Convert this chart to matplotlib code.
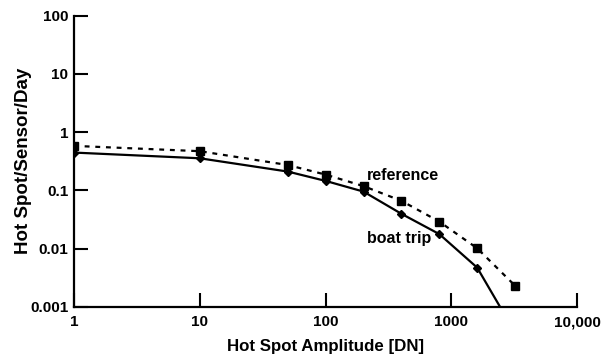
import matplotlib.pyplot as plt
from matplotlib.ticker import FixedLocator, FixedFormatter, NullLocator

plt.rcParams['font.family'] = ['Liberation Sans', 'DejaVu Sans']
plt.rcParams['font.weight'] = 'bold'

# data
amplitude = [1, 10, 50, 100, 200, 400, 800, 1600, 3200]
reference = [0.58, 0.47, 0.272, 0.186, 0.118, 0.066, 0.029, 0.0101, 0.0023]
boat_trip = [0.445, 0.355, 0.21, 0.145, 0.095, 0.0395, 0.0177, 0.0047, 0.00036]

x_ticks = [1, 10, 100, 1000, 10000]
x_labels = ['1', '10', '100', '1000', '10,000']
y_ticks = [0.001, 0.01, 0.1, 1, 10, 100]
y_labels = ['0.001', '0.01', '0.1', '1', '10', '100']

fig = plt.figure(figsize=(6.1, 3.6), dpi=100)
ax = fig.add_axes([0.1213, 0.148, 0.8251, 0.8084])

ax.plot(amplitude, reference, color='black', lw=1.6, linestyle=(0, (2.2, 2.6)),
        marker='s', markersize=6, clip_on=True)
ax.plot(amplitude, boat_trip, color='black', lw=1.6, linestyle='-',
        marker='D', markersize=4, clip_on=True)

ax.set_xscale('log')
ax.set_yscale('log')
ax.set_xlim(1, 10000)
ax.set_ylim(0.001, 100)

ax.xaxis.set_major_locator(FixedLocator(x_ticks))
ax.xaxis.set_major_formatter(FixedFormatter(x_labels))
ax.xaxis.set_minor_locator(NullLocator())
ax.yaxis.set_major_locator(FixedLocator(y_ticks))
ax.yaxis.set_major_formatter(FixedFormatter(y_labels))
ax.yaxis.set_minor_locator(NullLocator())

ax.tick_params(direction='in', length=10, width=1.5, labelsize=11)
ax.tick_params(axis='x', pad=6)
ax.tick_params(axis='y', pad=4)

for side in ['top', 'right']:
    ax.spines[side].set_visible(False)
for side in ['left', 'bottom']:
    ax.spines[side].set_linewidth(1.6)

ax.text(212, 0.18, 'reference', fontsize=11.5, fontweight='bold', va='center', ha='left')
ax.text(212, 0.0151, 'boat trip', fontsize=11.5, fontweight='bold', va='center', ha='left')

fig.text(326 / 610, 1 - 347 / 360, 'Hot Spot Amplitude [DN]', fontsize=12.2,
         fontweight='bold', ha='center', va='center')
fig.text(23 / 610, 1 - 161 / 360, 'Hot Spot/Sensor/Day', fontsize=13.5,
         fontweight='bold', ha='center', va='center', rotation=90)

fig.savefig('out.png', dpi=100)
